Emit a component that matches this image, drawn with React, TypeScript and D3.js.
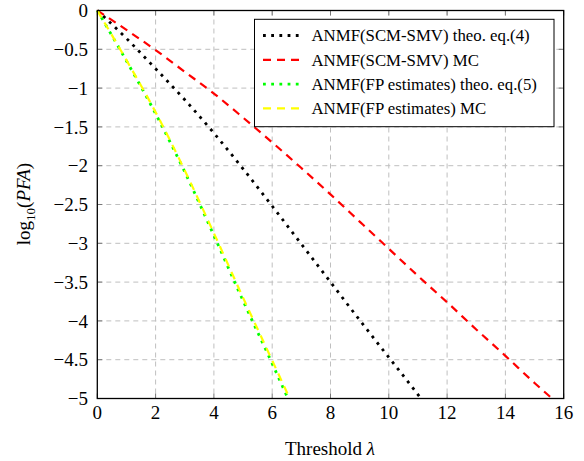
import React, { useRef, useEffect } from "react";
import * as d3 from "d3";

// x ticks (threshold) and y ticks (log10 PFA)
const xTicks = [0, 2, 4, 6, 8, 10, 12, 14, 16];
const yTicks = [0, -0.5, -1, -1.5, -2, -2.5, -3, -3.5, -4, -4.5, -5];

// ANMF(SCM-SMV) theo. eq.(4)
const scmTheoLambda = [0, 1, 2, 3, 4, 5, 6, 7, 8, 9, 10, 11, 11.1];
const scmTheoPfa = [0, -0.36, -0.75, -1.15, -1.58, -2.04, -2.52, -3.01, -3.5, -3.99, -4.47, -4.95, -5];

// ANMF(SCM-SMV) MC
const scmMcLambda = [0, 1, 2, 3, 4, 5, 6, 7, 8, 9, 10, 11, 12, 13, 14, 15, 15.6];
const scmMcPfa = [0, -0.25, -0.51, -0.79, -1.07, -1.38, -1.7, -2.03, -2.37, -2.72, -3.07, -3.42, -3.76, -4.11, -4.45, -4.8, -5];

// ANMF(FP estimates) theo. eq.(5)
const fpTheoLambda = [0, 1, 2, 3, 4, 5, 6, 6.54];
const fpTheoPfa = [0, -0.65, -1.33, -2.08, -2.9, -3.74, -4.55, -5];

// ANMF(FP estimates) MC
const fpMcLambda = [0, 1, 2, 3, 4, 5, 6, 6.6];
const fpMcPfa = [0, -0.64, -1.31, -2.06, -2.87, -3.7, -4.51, -5];

const seriesNames = [
  "ANMF(SCM-SMV) theo. eq.(4)",
  "ANMF(SCM-SMV) MC",
  "ANMF(FP estimates) theo. eq.(5)",
  "ANMF(FP estimates) MC",
];

const App = () => {
  const svgRef = useRef<SVGSVGElement>(null);

  useEffect(() => {
    const width = 584;
    const height = 461;
    const margin = { top: 10.5, right: 20.3, bottom: 62.5, left: 97.3 };
    const serif = "'Liberation Serif', 'Times New Roman', serif";

    const svg = d3
      .select(svgRef.current)
      .attr("width", width)
      .attr("height", height)
      .style("background", "#fff");
    svg.selectAll("*").remove();

    const xScale = d3
      .scaleLinear()
      .domain([0, 16])
      .range([margin.left, width - margin.right]);

    const yScale = d3
      .scaleLinear()
      .domain([-5, 0])
      .range([height - margin.bottom, margin.top]);

    const x0 = margin.left;
    const x1 = width - margin.right;
    const y0 = margin.top;
    const y1 = height - margin.bottom;

    // Grid
    const grid = svg.append("g");
    xTicks.slice(1, -1).forEach((t) => {
      grid
        .append("line")
        .attr("x1", xScale(t))
        .attr("x2", xScale(t))
        .attr("y1", y0)
        .attr("y2", y1)
        .attr("stroke", "#bfbfbf")
        .attr("stroke-width", 1)
        .attr("stroke-dasharray", "5 4");
    });
    yTicks.slice(1, -1).forEach((t) => {
      grid
        .append("line")
        .attr("x1", x0)
        .attr("x2", x1)
        .attr("y1", yScale(t))
        .attr("y2", yScale(t))
        .attr("stroke", "#bfbfbf")
        .attr("stroke-width", 1)
        .attr("stroke-dasharray", "5 4");
    });

    // Inward ticks on all sides
    const tickLen = 5;
    xTicks.forEach((t) => {
      [
        [y1, y1 - tickLen],
        [y0, y0 + tickLen],
      ].forEach(([a, b]) =>
        svg
          .append("line")
          .attr("x1", xScale(t))
          .attr("x2", xScale(t))
          .attr("y1", a)
          .attr("y2", b)
          .attr("stroke", "#777")
          .attr("stroke-width", 1)
      );
    });
    yTicks.forEach((t) => {
      [
        [x0, x0 + tickLen],
        [x1, x1 - tickLen],
      ].forEach(([a, b]) =>
        svg
          .append("line")
          .attr("x1", a)
          .attr("x2", b)
          .attr("y1", yScale(t))
          .attr("y2", yScale(t))
          .attr("stroke", "#777")
          .attr("stroke-width", 1)
      );
    });

    // Lines
    const line = d3
      .line<[number, number]>()
      .x((d) => xScale(d[0]))
      .y((d) => yScale(d[1]))
      .curve(d3.curveMonotoneX);

    const series = [
      { xs: scmTheoLambda, ys: scmTheoPfa, color: "#000", dash: "2.8 5.4", width: 2.8 },
      { xs: scmMcLambda, ys: scmMcPfa, color: "#ff0000", dash: "8 6", width: 2.2 },
      { xs: fpTheoLambda, ys: fpTheoPfa, color: "#00ff00", dash: "2.8 5.4", width: 2.8 },
      { xs: fpMcLambda, ys: fpMcPfa, color: "#ffff00", dash: "8 6", width: 2.2 },
    ];

    series.forEach((s) => {
      svg
        .append("path")
        .datum(s.xs.map((x, i) => [x, s.ys[i]] as [number, number]))
        .attr("d", line)
        .attr("fill", "none")
        .attr("stroke", s.color)
        .attr("stroke-width", s.width)
        .attr("stroke-dasharray", s.dash);
    });

    // Frame
    svg
      .append("rect")
      .attr("x", x0)
      .attr("y", y0)
      .attr("width", x1 - x0)
      .attr("height", y1 - y0)
      .attr("fill", "none")
      .attr("stroke", "#000")
      .attr("stroke-width", 1.3);

    // Tick labels
    const fmt = (v: number) => (v < 0 ? "\u2212" + String(-v) : String(v));
    xTicks.forEach((t) => {
      svg
        .append("text")
        .attr("x", xScale(t))
        .attr("y", 419)
        .attr("text-anchor", "middle")
        .style("font-family", serif)
        .style("font-size", "19px")
        .text(fmt(t));
    });
    yTicks.forEach((t) => {
      svg
        .append("text")
        .attr("x", 88)
        .attr("y", yScale(t))
        .attr("dy", "0.35em")
        .attr("text-anchor", "end")
        .style("font-family", serif)
        .style("font-size", "19px")
        .text(fmt(t));
    });

    // Axis labels
    const xl = svg
      .append("text")
      .attr("x", 330)
      .attr("y", 455)
      .attr("text-anchor", "middle")
      .style("font-family", serif)
      .style("font-size", "19px");
    xl.append("tspan").text("Threshold ");
    xl.append("tspan").style("font-style", "italic").text("\u03bb");

    const yl = svg
      .append("text")
      .attr("transform", "translate(30,204) rotate(-90)")
      .attr("text-anchor", "middle")
      .style("font-family", serif)
      .style("font-size", "19px");
    yl.append("tspan").text("log");
    yl.append("tspan").attr("dy", 5).style("font-size", "13px").text("10");
    yl.append("tspan").attr("dy", -5).text("(");
    yl.append("tspan").style("font-style", "italic").text("PFA");
    yl.append("tspan").text(")");

    // Legend
    const legend = svg.append("g");
    legend
      .append("rect")
      .attr("x", 254.5)
      .attr("y", 19.3)
      .attr("width", 299.5)
      .attr("height", 107.4)
      .attr("fill", "#fff")
      .attr("stroke", "#000")
      .attr("stroke-width", 1);

    series.forEach((s, i) => {
      const yy = 35.5 + i * 24.3;
      legend
        .append("line")
        .attr("x1", 263)
        .attr("x2", 300)
        .attr("y1", yy)
        .attr("y2", yy)
        .attr("stroke", s.color)
        .attr("stroke-width", s.width)
        .attr("stroke-dasharray", s.dash);
      legend
        .append("text")
        .attr("x", 311.5)
        .attr("y", yy)
        .attr("dy", "0.35em")
        .style("font-family", serif)
        .style("font-size", "16.8px")
        .text(seriesNames[i]);
    });
  }, []);

  return (
    <div style={{ position: "absolute", left: 0, top: 0 }}>
      <svg ref={svgRef}></svg>
    </div>
  );
};

export default App;
